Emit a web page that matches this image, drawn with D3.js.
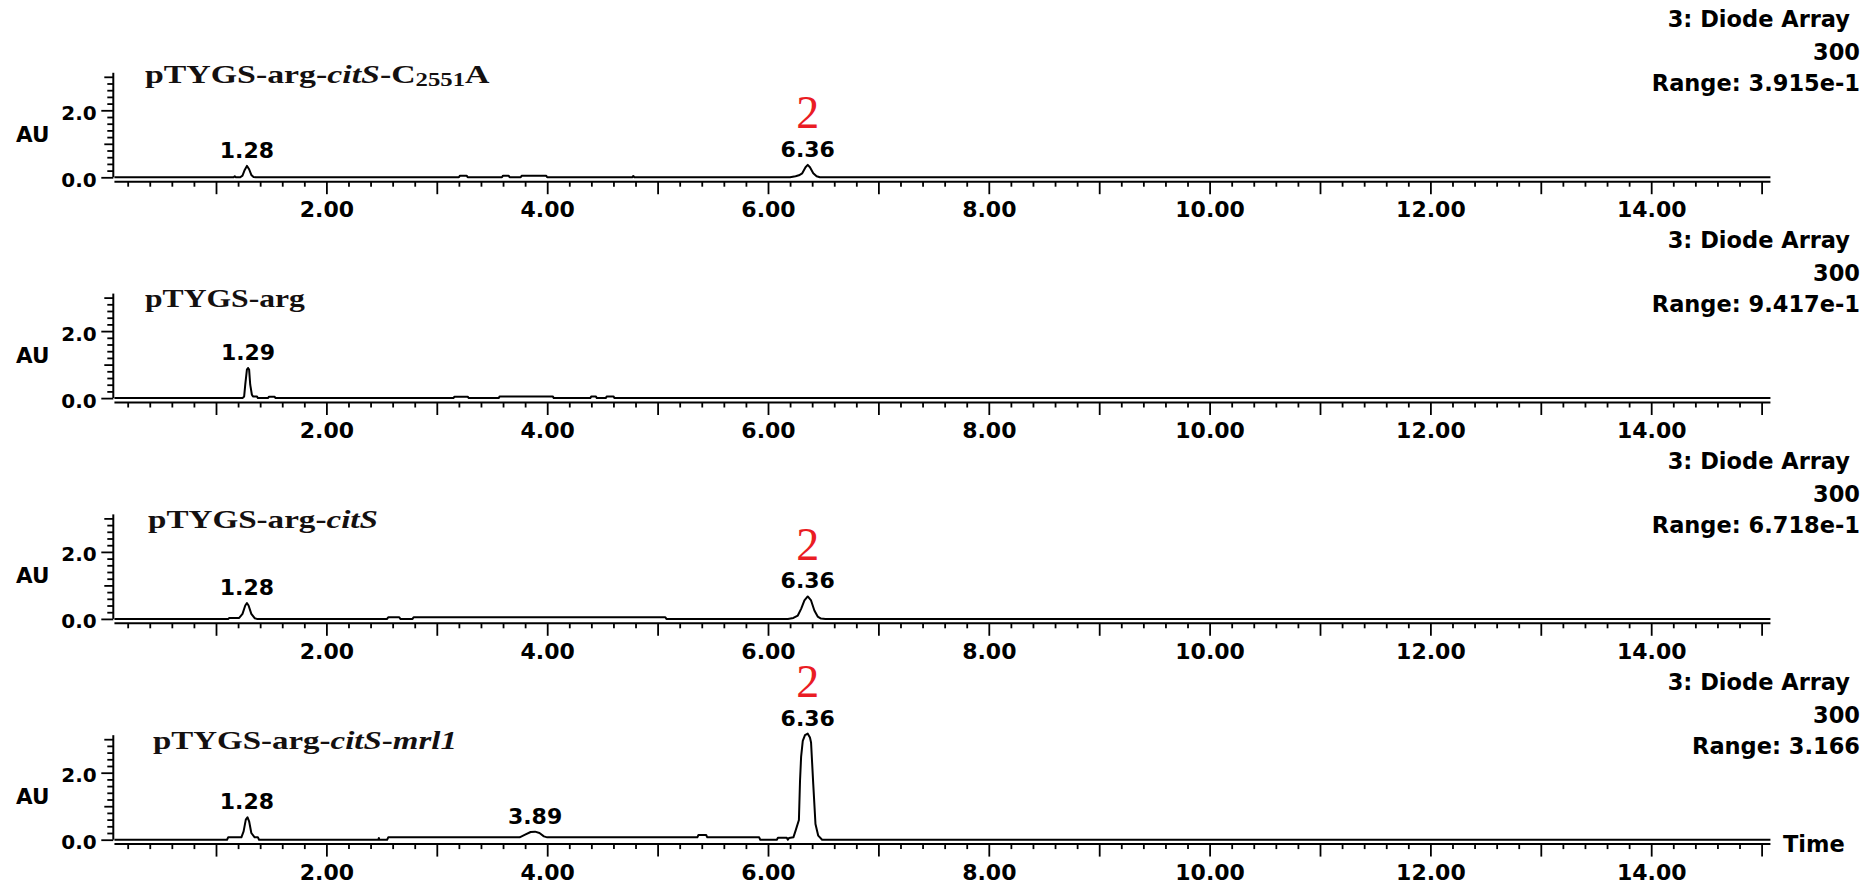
<!DOCTYPE html>
<html><head><meta charset="utf-8">
<script src="https://cdn.jsdelivr.net/npm/d3@7"></script>
<style>body{margin:0;background:#fff;} svg{display:block;}</style>
</head><body>
<svg id="c" width="1876" height="885"></svg>
<script>
// ---------------- DATA ----------------
const sampleTitles = [
  [{t:"pTYGS-arg-"},{t:"citS",i:true},{t:"-C"},{t:"2551",sub:true},{t:"A"}],
  [{t:"pTYGS-arg"}],
  [{t:"pTYGS-arg-"},{t:"citS",i:true}],
  [{t:"pTYGS-arg-"},{t:"citS",i:true},{t:"-"},{t:"mrl1",i:true}]
];
const detectorLabel = "3: Diode Array";
const wavelengthLabel = "300";
const rangeLabels = ["Range: 3.915e-1","Range: 9.417e-1","Range: 6.718e-1","Range: 3.166"];
const peakTimes = [[1.28,6.36],[1.29],[1.28,6.36],[1.28,3.89,6.36]];
const compoundPeaks = [[6.36],[],[6.36],[6.36]];
const compoundLabel = "2";
const xTickValues = [2,4,6,8,10,12,14];
const yTickValues = [0,2];
const xAxisLabel = "Time";
const yAxisLabel = "AU";

// traces: [time (min), absorbance (AU)]
const traceC2551A = [[0.08,0],[1.16,0],[1.17,0.03],[1.18,0],[1.22,0],[1.24,0.05],[1.26,0.22],[1.28,0.34],[1.30,0.24],[1.32,0.07],[1.34,0.01],[1.36,0],
  [3.20,0],[3.21,0.05],[3.27,0.05],[3.28,0],[3.59,0],[3.60,0.05],[3.65,0.05],[3.66,0],[3.76,0],[3.77,0.05],[3.99,0.05],[4.00,0],
  [4.77,0],[4.78,0.04],[4.79,0],[6.20,0],[6.25,0.03],[6.28,0.06],[6.31,0.12],[6.34,0.3],[6.36,0.37],[6.38,0.3],[6.41,0.12],[6.44,0.03],[6.47,0],[15.08,0]];
const traceArg = [[0.08,0],[1.24,0],[1.255,0.05],[1.265,0.4],[1.28,0.85],[1.29,0.9],[1.30,0.85],[1.31,0.4],[1.325,0.1],[1.335,0.05],[1.37,0.05],[1.38,0],
  [1.47,0],[1.48,0.04],[1.53,0.04],[1.54,0],[3.15,0],[3.16,0.04],[3.28,0.04],[3.29,0],[3.56,0],[3.57,0.05],[4.05,0.05],[4.06,0],
  [4.39,0],[4.40,0.05],[4.44,0.05],[4.45,0],[4.53,0],[4.54,0.05],[4.60,0.05],[4.61,0],[15.08,0]];
const traceCitS = [[0.08,0],[1.11,0],[1.12,0.03],[1.21,0.03],[1.24,0.15],[1.265,0.4],[1.28,0.47],[1.295,0.4],[1.32,0.15],[1.35,0.02],[1.37,0],
  [2.55,0],[2.56,0.05],[2.66,0.05],[2.67,0],[2.78,0],[2.79,0.05],[5.07,0.05],[5.08,0],
  [6.18,0],[6.23,0.03],[6.27,0.1],[6.30,0.3],[6.33,0.55],[6.36,0.67],[6.39,0.55],[6.42,0.25],[6.45,0.07],[6.48,0.01],[6.52,0],[15.08,0]];
const traceMrl1 = [[0.08,0],[1.10,0],[1.11,0.07],[1.23,0.07],[1.25,0.25],[1.27,0.6],[1.285,0.67],[1.30,0.55],[1.32,0.2],[1.35,0.07],[1.38,0.07],[1.39,0],
  [2.47,0],[2.475,0.05],[2.48,0],[2.55,0],[2.56,0.07],[3.75,0.07],[3.80,0.15],[3.85,0.23],[3.89,0.24],[3.93,0.2],[3.97,0.1],[4.00,0.07],
  [5.36,0.07],[5.37,0.14],[5.44,0.14],[5.45,0.07],[5.92,0.07],[5.93,0],[6.08,0],[6.09,0.06],[6.17,0.06],[6.18,0],
  [6.19,0.05],[6.23,0.07],[6.25,0.27],[6.28,0.59],[6.29,1.75],[6.30,2.48],[6.315,2.95],[6.335,3.12],[6.36,3.166],[6.38,3.05],[6.39,2.9],[6.41,1.65],[6.43,0.47],[6.455,0.12],[6.49,0],[15.08,0]];
const traces = [traceC2551A, traceArg, traceCitS, traceMrl1];

// ---------------- LAYOUT ----------------
const svg = d3.select("#c");
const SANS = "'DejaVu Sans', sans-serif";
const SERIF = "'Liberation Serif', 'Times New Roman', serif";
const x = d3.scaleLinear().domain([0,15]).range([105.6,1761.6]);
const Y0 = 177.3, DY = 220.8, PXAU = 33.5, YTOP = 3.12;
const yAxisX = 113.3;
const titleX = [145,145,148,153], titleW = [345,160,230,304], titleDY = [-94,-91,-91,-91];

traces.forEach((tr,k)=>{
  const z = Y0 + DY*k;
  const y = d3.scaleLinear().domain([0,YTOP]).range([z, z-YTOP*PXAU]);
  const g = svg.append("g");

  // x axis (double line: trace baseline + axis line)
  const axY = z + 4.4;
  const gx = g.append("g").attr("transform",`translate(0,${axY})`);
  gx.append("line").attr("x1",x(0.08)).attr("x2",x(15.08)).attr("stroke","#000").attr("stroke-width",2);
  const minor = d3.range(1,76).map(i=>+(i*0.2).toFixed(1)).filter(v=>Math.abs(v-Math.round(v))>1e-6);
  const ax1 = gx.append("g").call(d3.axisBottom(x).tickValues(minor).tickSize(5).tickFormat(""));
  const ax2 = gx.append("g").call(d3.axisBottom(x).tickValues(d3.range(1,16)).tickSize(12.5)
      .tickFormat(d=> xTickValues.includes(d) ? d3.format(".2f")(d) : ""));
  [ax1,ax2].forEach(a=>{a.select(".domain").remove(); a.selectAll("line").attr("stroke","#000").attr("stroke-width",1.8);});
  ax2.selectAll("text").attr("y",35.5).attr("dy",0).attr("fill","#000")
     .style("font-family",SANS).style("font-weight","bold").style("font-size","22px");

  // y axis
  const gy = g.append("g").attr("transform",`translate(${yAxisX},0)`);
  gy.append("line").attr("y1",y(0)).attr("y2",y(YTOP)).attr("stroke","#000").attr("stroke-width",2);
  const yMinor = d3.range(1,16).map(i=>+(i*0.2).toFixed(1)).filter(v=>Math.abs(v-Math.round(v))>1e-6);
  const ay1 = gy.append("g").call(d3.axisLeft(y).tickValues(yMinor).tickSize(6).tickFormat(""));
  const ay2 = gy.append("g").call(d3.axisLeft(y).tickValues([1,3]).tickSize(9).tickFormat(""));
  const ay3 = gy.append("g").call(d3.axisLeft(y).tickValues(yTickValues).tickSize(12).tickFormat(d3.format(".1f")));
  [ay1,ay2,ay3].forEach(a=>{a.select(".domain").remove(); a.selectAll("line").attr("stroke","#000").attr("stroke-width",1.8);});
  ay3.selectAll("text").attr("x",-16.6).attr("dy",9).attr("fill","#000")
     .style("font-family",SANS).style("font-weight","bold").style("font-size","20px");
  g.append("text").text(yAxisLabel).attr("x",16).attr("y",z-35.6)
     .style("font-family",SANS).style("font-weight","bold").style("font-size","21.5px");

  // trace
  g.append("path").datum(tr)
    .attr("d", d3.line().x(d=>x(d[0])).y(d=>y(d[1])))
    .attr("fill","none").attr("stroke","#000").attr("stroke-width",2).attr("stroke-linejoin","round");

  // peak labels
  const apex = t => d3.max(tr.filter(d=>Math.abs(d[0]-t)<=0.06), d=>d[1]);
  peakTimes[k].forEach(t=>{
    g.append("text").text(d3.format(".2f")(t)).attr("x",x(t)).attr("y",y(apex(t))-8)
      .attr("text-anchor","middle").style("font-family",SANS).style("font-weight","bold").style("font-size","22px");
  });
  compoundPeaks[k].forEach(t=>{
    g.append("text").text(compoundLabel).attr("x",x(t)).attr("y",y(apex(t))-36.5)
      .attr("text-anchor","middle").attr("fill","#ea1c24")
      .style("font-family",SERIF).style("font-size","46px");
  });

  // right-side info
  const info = [[detectorLabel,-150,1850],[wavelengthLabel,-117,1860],[rangeLabels[k],-86,1860]];
  info.forEach(([s,dy,xr])=>{
    g.append("text").text(s).attr("x",xr).attr("y",z+dy).attr("text-anchor","end")
     .style("font-family",SANS).style("font-weight","bold").style("font-size","22.5px");
  });

  // title (stretched horizontally to match)
  const tt = g.append("text").attr("x",0).attr("y",0)
     .style("font-family",SERIF).style("font-weight","bold").style("font-size","26px").attr("fill","#141010");
  let prevSub = false;
  sampleTitles[k].forEach(p=>{
    const ts = tt.append("tspan").text(p.t);
    if(p.i) ts.style("font-style","italic");
    if(p.sub){ ts.style("font-size","19px").attr("dy",3); prevSub = true; }
    else if(prevSub){ ts.attr("dy",-3); prevSub = false; }
  });
  const w = tt.node().getBBox().width;
  tt.attr("transform",`translate(${titleX[k]},${z+titleDY[k]}) scale(${titleW[k]/w},1)`);

  if(k===3){
    g.append("text").text(xAxisLabel).attr("x",1783).attr("y",axY+8)
     .style("font-family",SANS).style("font-weight","bold").style("font-size","22.5px");
  }
});
</script>
</body></html>
